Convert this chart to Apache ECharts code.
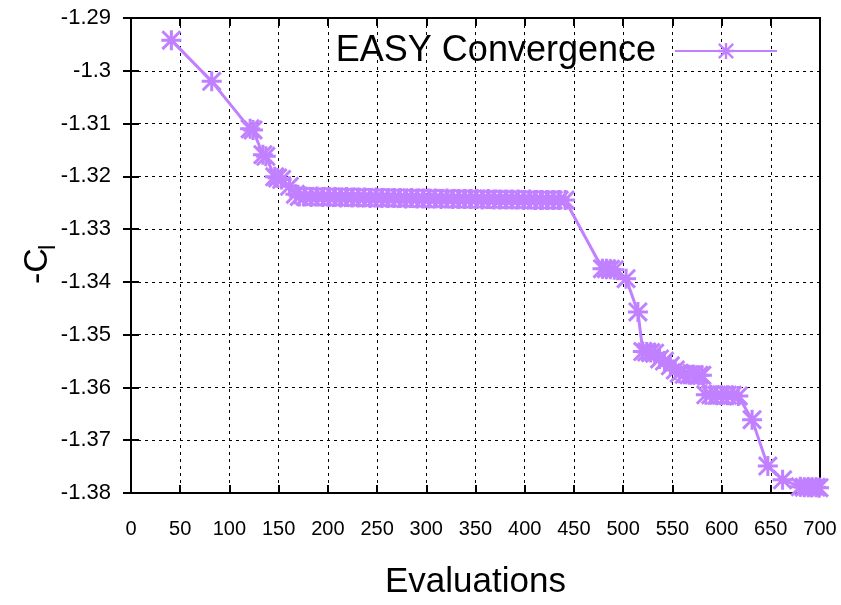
<!DOCTYPE html>
<html>
<head>
<meta charset="utf-8">
<script src="https://cdn.jsdelivr.net/npm/echarts@6/dist/echarts.min.js"></script>
<style>
  html, body { margin: 0; padding: 0; background: #fff; }
  #chart { width: 841px; height: 605px; }
</style>
</head>
<body>
<div id="chart"></div>
<script>
// evaluations (x) and -Cl values (y)
const evals = [
  41, 82, 121, 124, 134, 137, 146, 149, 153, 161, 167,
  171, 177, 183, 189, 195, 201, 207, 213, 219, 225,
  231, 237, 243, 249, 255, 261, 267, 273, 279, 285,
  291, 297, 303, 309, 315, 321, 327, 333, 339, 345,
  351, 357, 363, 369, 375, 381, 387, 393, 399, 405,
  411, 417, 423, 429, 435, 441,
  479, 483, 487, 491, 503, 515, 520, 524, 528, 532,
  537, 542, 548, 553, 557, 562, 567, 572, 577, 580,
  584, 589, 595, 600, 606, 611, 617, 631, 647, 662,
  680, 684, 688, 692, 696, 699
];
const negCl = [
  -1.2942, -1.3020, -1.3110, -1.3112, -1.3159, -1.3162, -1.3201, -1.3203, -1.3206, -1.3219, -1.3234,
  -1.3238, -1.3238, -1.3239, -1.3238, -1.3239, -1.3239, -1.3239, -1.3240, -1.3239, -1.3240,
  -1.3240, -1.3240, -1.3241, -1.3240, -1.3241, -1.3241, -1.3241, -1.3241, -1.3242, -1.3241,
  -1.3242, -1.3242, -1.3242, -1.3242, -1.3243, -1.3242, -1.3243, -1.3243, -1.3243, -1.3243,
  -1.3243, -1.3244, -1.3243, -1.3244, -1.3244, -1.3244, -1.3244, -1.3244, -1.3245, -1.3244,
  -1.3245, -1.3245, -1.3245, -1.3245, -1.3245, -1.3245,
  -1.3375, -1.3375, -1.3376, -1.3377, -1.3394, -1.3457, -1.3532, -1.3533, -1.3534, -1.3535,
  -1.3546, -1.3550, -1.3559, -1.3567, -1.3573, -1.3575, -1.3576, -1.3576, -1.3577, -1.3577,
  -1.3614, -1.3614, -1.3615, -1.3615, -1.3615, -1.3615, -1.3616, -1.3661, -1.3749, -1.3775,
  -1.3788, -1.3789, -1.3789, -1.3789, -1.3789, -1.3790
];

const lineColor = '#c080ff';
const font = 'Liberation Sans, Arial, sans-serif';

// gnuplot style asterisk marker (plus + cross), 20x20 box, thick arms
const asterisk = 'path://M0 8.5H20V11.5H0Z M8.5 0H11.5V20H8.5Z M2.1 0L20 17.9L17.9 20L0 2.1Z M17.9 0L20 2.1L2.1 20L0 17.9Z';

const chart = echarts.init(document.getElementById('chart'));

const tickStyle = { show: true, inside: true, length: 8, lineStyle: { color: '#000', width: 2 } };
const gridLine = { show: true, lineStyle: { color: '#000', width: 1, type: [3, 4] } };

chart.setOption({
  animation: false,
  grid: {
    left: 131, right: 21, top: 18, bottom: 104,
    show: true, borderColor: '#000', borderWidth: 2
  },
  legend: {
    data: ['EASY Convergence'],
    right: 63,
    top: 33,
    padding: 0,
    align: 'right',
    itemWidth: 102,
    itemHeight: 20,
    textStyle: { fontSize: 36, fontFamily: font, color: '#000', padding: [0, 14, 0, 0] }
  },
  xAxis: [
    {
      type: 'value', min: 0, max: 700, interval: 50,
      axisLine: { show: false },
      axisTick: tickStyle,
      splitLine: gridLine,
      axisLabel: { margin: 26, fontSize: 20, fontFamily: font, color: '#000' },
      name: 'Evaluations',
      nameLocation: 'middle',
      nameGap: 72,
      nameTextStyle: { fontSize: 35, fontFamily: font, color: '#000', verticalAlign: 'top' }
    },
    {
      type: 'value', position: 'top', min: 0, max: 700, interval: 50,
      axisLine: { show: false }, axisTick: tickStyle,
      axisLabel: { show: false }, splitLine: { show: false }
    }
  ],
  yAxis: [
    {
      type: 'value', min: -1.38, max: -1.29, interval: 0.01,
      axisLine: { show: false },
      axisTick: tickStyle,
      splitLine: gridLine,
      axisLabel: { margin: 20, fontSize: 22, fontFamily: font, color: '#000' }
    },
    {
      type: 'value', position: 'right', min: -1.38, max: -1.29, interval: 0.01,
      axisLine: { show: false }, axisTick: tickStyle,
      axisLabel: { show: false }, splitLine: { show: false }
    }
  ],
  graphic: [
    {
      type: 'group',
      x: 38, y: 262,
      rotation: Math.PI / 2,
      children: [
        {
          type: 'text', x: -22, y: 0,
          style: { text: '-C', font: '34px ' + font, fill: '#000', verticalAlign: 'middle', align: 'left' }
        },
        {
          type: 'text', x: 12, y: 10,
          style: { text: 'l', font: '24px ' + font, fill: '#000', verticalAlign: 'middle', align: 'left' }
        }
      ]
    }
  ],
  series: [
    {
      name: 'EASY Convergence',
      type: 'line',
      data: evals.map((x, i) => [x, negCl[i]]),
      symbol: asterisk,
      symbolSize: 20,
      showAllSymbol: true,
      clip: false,
      lineStyle: { color: lineColor, width: 3 },
      itemStyle: { color: lineColor }
    }
  ]
});
</script>
</body>
</html>
